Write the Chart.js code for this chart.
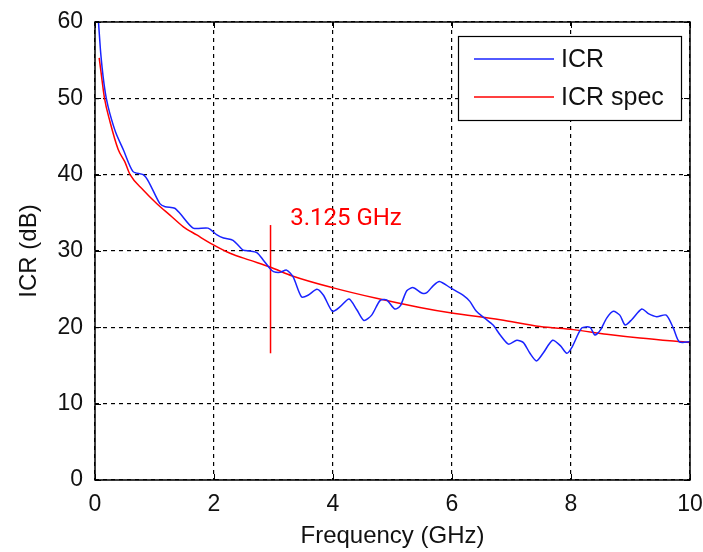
<!DOCTYPE html>
<html>
<head>
<meta charset="utf-8">
<script src="https://cdn.jsdelivr.net/npm/chart.js@4/dist/chart.umd.min.js"></script>
<style>
  html, body { margin: 0; padding: 0; background: #fff; }
  #wrap { width: 703px; height: 552px; position: relative; }
</style>
</head>
<body>
<div id="wrap"><canvas id="chart"></canvas></div>
<script>
// measured ICR (blue)
const icrFreq = [0.05, 0.09, 0.12, 0.15, 0.19, 0.25, 0.35, 0.48, 0.64, 0.81, 0.9, 1.09, 1.18, 1.34, 1.43, 1.65, 1.9, 2.05, 2.16, 2.32, 2.49, 2.6, 2.72, 2.83, 2.94, 3.0, 3.11, 3.22, 3.33, 3.47, 3.58, 3.73, 3.84, 3.99, 4.12, 4.27, 4.4, 4.52, 4.65, 4.79, 4.9, 5.04, 5.13, 5.24, 5.35, 5.49, 5.57, 5.69, 5.79, 5.97, 6.19, 6.3, 6.41, 6.55, 6.69, 6.81, 6.95, 7.09, 7.2, 7.31, 7.42, 7.53, 7.69, 7.82, 7.93, 8.01, 8.18, 8.32, 8.4, 8.49, 8.6, 8.71, 8.82, 8.91, 9.02, 9.19, 9.3, 9.44, 9.6, 9.72, 9.82, 10.0];
const icrValue = [61, 56.5, 54, 52, 50, 48, 45.5, 43.2, 40.4, 40.0, 39.1, 36.2, 35.8, 35.6, 34.9, 33.0, 33.0, 32.1, 31.7, 31.4, 30.1, 30.0, 29.8, 28.8, 27.7, 27.3, 27.2, 27.5, 26.6, 24.0, 24.2, 25.0, 24.2, 22.1, 22.7, 23.7, 22.3, 20.9, 21.6, 23.5, 23.6, 22.4, 22.8, 24.8, 25.2, 24.5, 24.5, 25.5, 26.0, 25.2, 24.2, 23.4, 22.1, 21.2, 20.3, 19.0, 17.8, 18.3, 18.0, 16.6, 15.6, 16.6, 18.3, 17.6, 16.6, 17.3, 19.9, 20.0, 19.0, 19.6, 21.2, 22.1, 21.6, 20.3, 21.0, 22.4, 21.8, 21.4, 21.6, 19.9, 18.1, 18.1];

// ICR spec (red)
const specFreq = [0.07, 0.1, 0.16, 0.25, 0.39, 0.5, 0.59, 0.81, 1.04, 1.26, 1.48, 1.71, 1.99, 2.27, 2.6, 2.94, 3.33, 3.99, 4.73, 5.46, 5.97, 6.81, 7.48, 8.04, 8.6, 9.16, 10.0];
const specValue = [55.3, 53.5, 50, 47, 43.3, 41.7, 40.0, 38.0, 36.2, 34.7, 33.2, 32.1, 30.8, 29.7, 28.8, 27.9, 26.7, 25.2, 23.8, 22.6, 21.9, 21.0, 20.1, 19.7, 19.1, 18.6, 18.0];

// marker at the cut-off frequency
const markerFreq = [2.95, 2.95];
const markerValue = [16.6, 33.4];
const markerLabel = '3.125 GHz';
const markerLabelAt = [3.28, 33.4];

const seriesNames = ['ICR', 'ICR spec'];
const xTicks = [0, 2, 4, 6, 8, 10];
const yTicks = [0, 10, 20, 30, 40, 50, 60];

const toPoints = (xs, ys) => xs.map((x, i) => ({ x, y: ys[i] }));

const FONT = "'Liberation Sans', Arial, sans-serif";

// legend box + frame + marker text, drawn on top like MATLAB does
const matlabBits = {
  id: 'matlabBits',
  afterDatasetsDraw(chart) {
    const { ctx, chartArea: a, scales } = chart;
    ctx.save();

    // axes box with inward ticks
    ctx.strokeStyle = '#000';
    ctx.lineWidth = 1.5;
    ctx.strokeRect(a.left, a.top, a.right - a.left, a.bottom - a.top);
    ctx.lineWidth = 1;
    ctx.beginPath();
    xTicks.forEach((t) => {
      const px = Math.round(scales.x.getPixelForValue(t)) + 0.5;
      ctx.moveTo(px, a.bottom); ctx.lineTo(px, a.bottom - 6);
      ctx.moveTo(px, a.top); ctx.lineTo(px, a.top + 6);
    });
    yTicks.forEach((t) => {
      const py = Math.round(scales.y.getPixelForValue(t)) + 0.5;
      ctx.moveTo(a.left, py); ctx.lineTo(a.left + 6, py);
      ctx.moveTo(a.right, py); ctx.lineTo(a.right - 6, py);
    });
    ctx.stroke();

    // marker label
    ctx.fillStyle = '#ff0000';
    ctx.font = "24px Roboto, 'Liberation Sans', sans-serif";
    ctx.textBaseline = 'alphabetic';
    ctx.textAlign = 'left';
    ctx.fillText(markerLabel,
      scales.x.getPixelForValue(markerLabelAt[0]),
      scales.y.getPixelForValue(markerLabelAt[1]));

    // legend
    const bx = 458, by = 36, bw = 223, bh = 84;
    ctx.fillStyle = '#fff';
    ctx.fillRect(bx, by, bw, bh);
    ctx.strokeStyle = '#000';
    ctx.lineWidth = 1.2;
    ctx.strokeRect(bx + 0.5, by + 0.5, bw, bh);
    ctx.font = '25px ' + FONT;
    ctx.textBaseline = 'middle';
    seriesNames.forEach((name, i) => {
      const ds = chart.data.datasets[i];
      const y = by + 23 + i * 38;
      ctx.strokeStyle = ds.borderColor;
      ctx.lineWidth = 1.6;
      ctx.beginPath();
      ctx.moveTo(bx + 16, y); ctx.lineTo(bx + 96, y);
      ctx.stroke();
      ctx.fillStyle = '#111';
      ctx.fillText(name, bx + 103, y + 1);
    });
    ctx.restore();
  },
};

const gridCommon = {
  color: '#000',
  lineWidth: 1.2,
  drawTicks: false,
};

new Chart(document.getElementById('chart'), {
  type: 'line',
  data: {
    datasets: [
      {
        label: seriesNames[0],
        data: toPoints(icrFreq, icrValue),
        borderColor: 'rgb(25, 35, 255)',
        borderWidth: 1.5,
        pointRadius: 0,
        tension: 0.25,
      },
      {
        label: seriesNames[1],
        data: toPoints(specFreq, specValue),
        borderColor: '#ff0000',
        borderWidth: 1.5,
        pointRadius: 0,
        cubicInterpolationMode: 'monotone',
      },
      {
        label: 'marker',
        data: toPoints(markerFreq, markerValue),
        borderColor: '#ff0000',
        borderWidth: 1.5,
        pointRadius: 0,
      },
    ],
  },
  options: {
    responsive: true,
    maintainAspectRatio: false,
    animation: false,
    events: [],
    layout: { padding: { left: 0, right: 13, top: 22, bottom: 0 } },
    plugins: {
      legend: { display: false },
      tooltip: { enabled: false },
    },
    scales: {
      x: {
        type: 'linear',
        min: 0,
        max: 10,
        afterFit(scale) {
          scale.height = 72;
          scale.paddingLeft = 0;
          scale.paddingRight = 0;
        },
        afterBuildTicks(scale) { scale.ticks = xTicks.map((v) => ({ value: v })); },
        border: { display: false, dash: [4, 4] },
        grid: gridCommon,
        ticks: {
          color: '#111',
          padding: 11,
          font: { family: FONT, size: 23 },
        },
        title: {
          display: true,
          text: 'Frequency (GHz)',
          color: '#111',
          font: { family: FONT, size: 24 },
          padding: { top: 0, bottom: 1 },
        },
      },
      y: {
        min: 0,
        max: 60,
        afterFit(scale) {
          scale.width = 95;
          scale.paddingTop = 0;
          scale.paddingBottom = 0;
        },
        afterBuildTicks(scale) { scale.ticks = yTicks.map((v) => ({ value: v })); },
        border: { display: false, dash: [4, 4] },
        grid: gridCommon,
        ticks: {
          color: '#111',
          padding: 12,
          font: { family: FONT, size: 23 },
        },
        title: {
          display: true,
          text: 'ICR (dB)',
          color: '#111',
          font: { family: FONT, size: 24 },
          padding: { top: 15, bottom: 0 },
        },
      },
    },
  },
  plugins: [matlabBits],
});
</script>
</body>
</html>
